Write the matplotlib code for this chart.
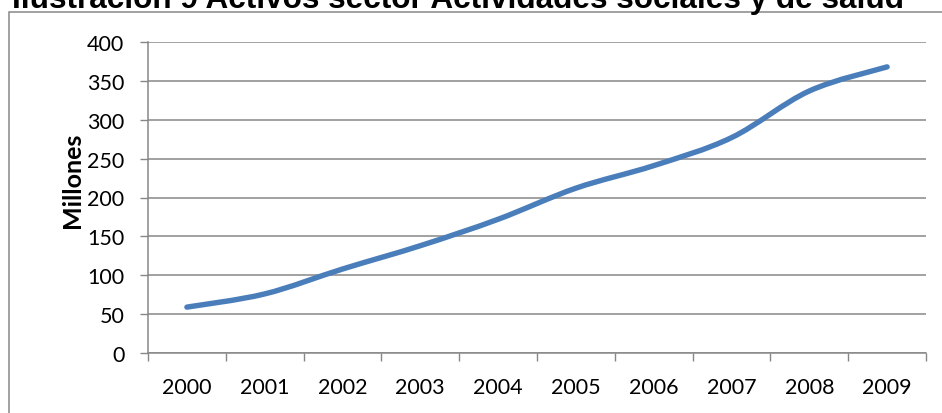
import numpy as np
import matplotlib
matplotlib.use("Agg")
import matplotlib.pyplot as plt
from matplotlib.path import Path
from matplotlib.patches import PathPatch, Rectangle

# data (millones)
years = ['2000', '2001', '2002', '2003', '2004', '2005', '2006', '2007', '2008', '2009']
activos = [59, 76, 108, 138, 172, 212, 241, 277, 337, 368]
title = 'Ilustración 9 Activos sector Actividades sociales y de salud'
y_label = 'Millones'

grey = '#878787'
blue = '#4A7EBB'


def smooth_path(xs, ys, t=1/6):
    # Excel style smoothed line: bezier segments through the data points
    pts = np.column_stack([xs, ys]).astype(float)
    verts = [pts[0]]
    codes = [Path.MOVETO]
    n = len(pts)
    for i in range(n - 1):
        p0 = pts[i - 1] if i > 0 else pts[i]
        p1 = pts[i]
        p2 = pts[i + 1]
        p3 = pts[i + 2] if i + 2 < n else pts[i + 1]
        c1 = p1 + (p2 - p0) * t
        c2 = p2 - (p3 - p1) * t
        verts += [c1, c2, p2]
        codes += [Path.CURVE4] * 3
    return Path(verts, codes)


fig = plt.figure(figsize=(9.42, 4.14), dpi=100)
ax = fig.add_axes([148 / 942, 60 / 414, 778 / 942, 311 / 414])

x = np.arange(len(years))
# invisible points so the scales know the data, smoothed curve on top
ax.plot(x, activos, alpha=0)
ax.add_patch(PathPatch(smooth_path(x, activos), facecolor='none', edgecolor=blue,
                       lw=3.9, capstyle='round', joinstyle='round', zorder=3))

ax.set_xlim(-0.5, len(years) - 0.5)
ax.set_ylim(0, 400)
ax.set_yticks(np.arange(0, 401, 50))
ax.yaxis.grid(True, color=grey, lw=1.1)
ax.set_axisbelow(True)

# ticks at category boundaries, labels centred on categories
ax.set_xticks(np.arange(-0.5, len(years), 1.0))
ax.set_xticklabels([])
ax.set_xticks(x, minor=True)
ax.set_xticklabels(years, minor=True, fontsize=15.5, family='Lato')
ax.tick_params(axis='x', which='minor', length=0, pad=17)
ax.tick_params(axis='x', which='major', length=6, color=grey, width=1)
ax.tick_params(axis='y', length=6, color=grey, width=1, pad=11, labelsize=15.5)
for lab in ax.get_yticklabels():
    lab.set_family('Lato')

for s in ['top', 'right']:
    ax.spines[s].set_visible(False)
for s in ['left', 'bottom']:
    ax.spines[s].set_color(grey)
    ax.spines[s].set_linewidth(1.1)

ax.set_ylabel(y_label, fontsize=18, fontweight='bold', family='Lato')
ax.yaxis.set_label_coords(-75 / 778, (354 - 180) / 311)
ax.yaxis.label.set_va('center')

# outer chart border, running off the right and bottom edges
fig.patches.append(Rectangle((9 / 942, -0.1), 1.0, 1.1 - 13 / 414, transform=fig.transFigure,
                             facecolor='none', edgecolor=grey, lw=1.1))

fig.text(458 / 942, 1 - 8 / 414, title, ha='center', va='baseline',
         fontsize=22.7, fontweight='bold', family='Liberation Sans')

fig.savefig('out.png', dpi=100)
